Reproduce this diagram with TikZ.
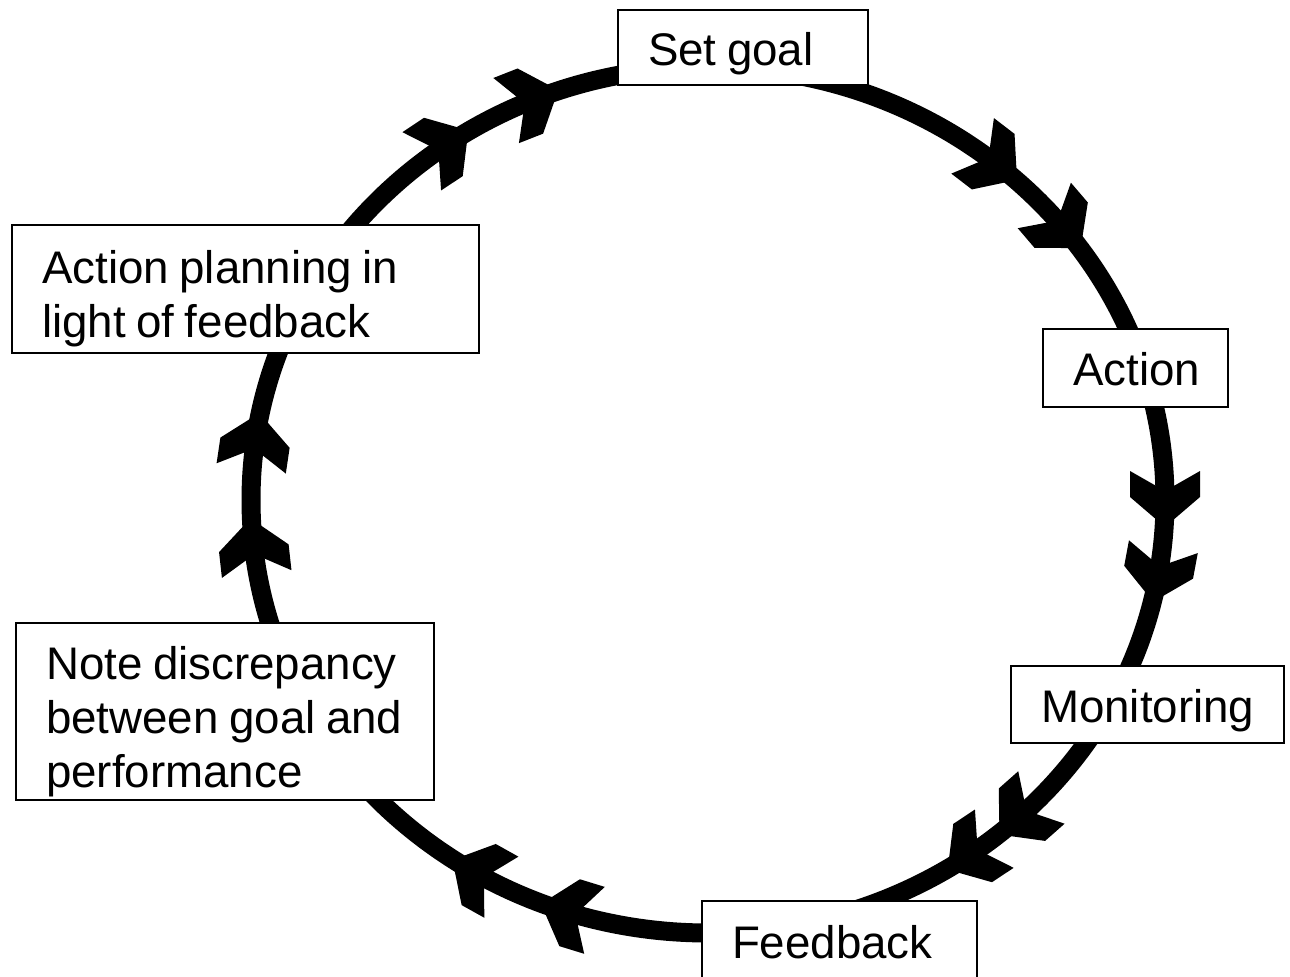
\documentclass[tikz,border=0pt]{standalone}
\usepackage{fontspec}
\setmainfont{Liberation Sans}

\tikzset{
  etape/.style={draw, line width=1.1pt, fill=white, align=left,
    inner xsep=0.6cm, inner ysep=0pt, font=\fontsize{26}{30.6}\selectfont,
    execute at begin node={\spaceskip=6pt\relax}},
  ligne/.style={etape, text height=0.9cm, text depth=0.18cm},
  bloc/.style={etape, text height=1.06cm},
}

\begin{document}
\begin{tikzpicture}[x=0.02cm, y=-0.02cm]
  \useasboundingbox (0,0) rectangle (1290,976);
  % le cycle
  \draw[line width=0.38cm] (708,500) ellipse [x radius=457, y radius=433];
  % les flèches
  \foreach \t in {0,10,47,55,108,120.5,174,188,235,247.5,309,321}
    \fill[shift={({708+457*cos(\t)},{500+433*sin(\t)})},
          rotate={atan2(-433*cos(\t),-457*sin(\t))}]
      (27,0) -- (-3,35) -- (-29,35) -- (-9,0) -- (-29,-35) -- (-3,-35) -- cycle;
  % les étapes
  \node[ligne, text width=3.8cm, minimum height=1.5cm] (goal) at (743,47.5) {Set goal};
  \node[ligne, text width=2.5cm, minimum height=1.56cm] (action) at (1135.5,368) {Action};
  \node[ligne, text width=4.26cm, minimum height=1.54cm] (monitor) at (1147.5,704.5) {Monitoring};
  \node[ligne, text width=4.3cm, minimum height=1.56cm] (feedback) at (839.5,940) {Feedback};
  \node[bloc, text width=7.16cm, minimum height=3.54cm] (note) at (225,711.5)
    {\mbox{Note discrepancy}\\\mbox{between goal and}\\performance};
  \node[bloc, text width=8.14cm, minimum height=2.56cm] (plan) at (245.5,289)
    {Action planning in\\light of feedback};
\end{tikzpicture}
\end{document}
